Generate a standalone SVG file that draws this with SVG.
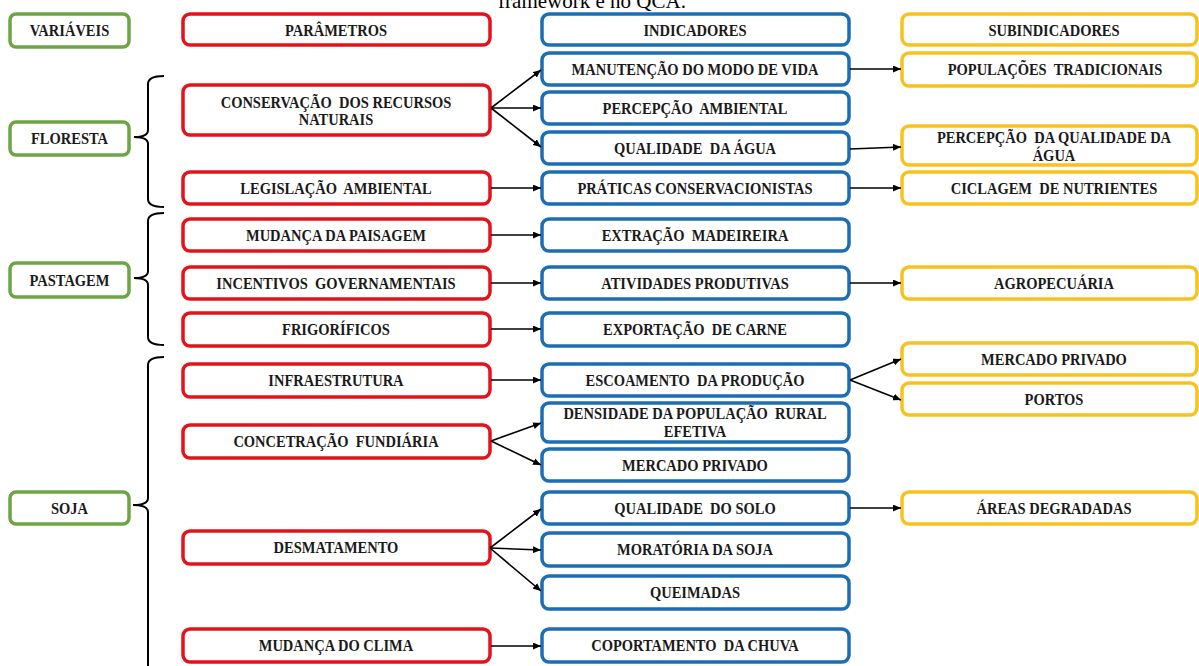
<svg xmlns="http://www.w3.org/2000/svg" width="1199" height="666" viewBox="0 0 1199 666">
  <style>
    rect { fill: #ffffff; stroke-width: 3.5; }
    .g rect { stroke: #6DA544; }
    .r rect { stroke: #E5121A; }
    .b rect { stroke: #1C6EB4; }
    .y rect { stroke: #F7C21E; }
    text { font-family: "Liberation Serif", "Times New Roman", serif; font-weight: bold; font-size: 14.5px; fill: #1a1a1a; text-anchor: middle; white-space: pre;
           transform-box: fill-box; transform-origin: center; transform: scaleY(1.15); }
    .title { font-weight: normal; font-size: 21px; fill: #000; transform: none; }
    .conn line { stroke: #000; stroke-width: 1.6; fill: none; }
    .brace { stroke: #000; stroke-width: 2; fill: none; }
  </style>
  <defs>
    <marker id="arrow" markerUnits="userSpaceOnUse" markerWidth="8" markerHeight="7" refX="8" refY="3.5" orient="auto">
      <path d="M0,0 L8,3.5 L0,7 z" fill="#000"/>
    </marker>
  </defs>
  <rect x="0" y="0" width="1199" height="666" style="stroke:none;fill:#fff"/>

  <!-- caption fragment cut at the top edge -->
  <text class="title" x="592" y="8">framework e no QCA.</text>

  <!-- column headers -->
  <g id="h-variaveis" class="g"><rect x="10" y="14" width="119" height="33" rx="6"/><text x="69.5" y="35">VARIÁVEIS</text></g>
  <g id="h-parametros" class="r"><rect x="183" y="14" width="307" height="31" rx="7"/><text x="336" y="35">PARÂMETROS</text></g>
  <g id="h-indicadores" class="b"><rect x="542" y="14" width="307" height="31" rx="7"/><text x="695" y="35">INDICADORES</text></g>
  <g id="h-subindicadores" class="y"><rect x="902" y="14" width="295" height="31" rx="7"/><text x="1054" y="35">SUBINDICADORES</text></g>

  <!-- variables -->
  <g id="v-floresta" class="g"><rect x="10" y="122" width="119" height="33" rx="6"/><text x="69.5" y="143">FLORESTA</text></g>
  <g id="v-pastagem" class="g"><rect x="10" y="263" width="119" height="34" rx="6"/><text x="69.5" y="285">PASTAGEM</text></g>
  <g id="v-soja" class="g"><rect x="10" y="492" width="119" height="32" rx="6"/><text x="69.5" y="513">SOJA</text></g>

  <!-- braces -->
  <g id="braces">
    <path class="brace" d="M164,76 Q148,76 148,84 V130 Q148,137 134,137 Q148,137 148,144 V199 Q148,207 164,207"/>
    <path class="brace" d="M164,213 Q148,213 148,221 V271 Q148,278 134,278 Q148,278 148,285 V337 Q148,345 164,345"/>
    <path class="brace" d="M164,357 Q148,357 148,365 V498 Q148,505 133,505 Q148,505 148,512 V680"/>
  </g>

  <!-- parameters -->
  <g id="p-conservacao" class="r"><rect x="183" y="85" width="307" height="50" rx="7"/><text x="336" y="107">CONSERVAÇÃO  DOS RECURSOS</text><text x="336" y="124">NATURAIS</text></g>
  <g id="p-legislacao" class="r"><rect x="183" y="172" width="307" height="32" rx="7"/><text x="336" y="193">LEGISLAÇÃO  AMBIENTAL</text></g>
  <g id="p-paisagem" class="r"><rect x="183" y="219" width="307" height="32" rx="7"/><text x="336" y="240">MUDANÇA DA PAISAGEM</text></g>
  <g id="p-incentivos" class="r"><rect x="183" y="267" width="307" height="32" rx="7"/><text x="336" y="288">INCENTIVOS  GOVERNAMENTAIS</text></g>
  <g id="p-frigorificos" class="r"><rect x="183" y="313" width="307" height="33" rx="7"/><text x="336" y="334">FRIGORÍFICOS</text></g>
  <g id="p-infraestrutura" class="r"><rect x="183" y="364" width="307" height="33" rx="7"/><text x="336" y="385">INFRAESTRUTURA</text></g>
  <g id="p-concentracao" class="r"><rect x="183" y="425" width="307" height="33" rx="7"/><text x="336" y="446">CONCETRAÇÃO  FUNDIÁRIA</text></g>
  <g id="p-desmatamento" class="r"><rect x="183" y="531" width="307" height="33" rx="7"/><text x="336" y="552">DESMATAMENTO</text></g>
  <g id="p-clima" class="r"><rect x="183" y="629" width="307" height="33" rx="7"/><text x="336" y="650">MUDANÇA DO CLIMA</text></g>

  <!-- indicators -->
  <g id="i-modo-vida" class="b"><rect x="542" y="53" width="307" height="32" rx="7"/><text x="695" y="74">MANUTENÇÃO DO MODO DE VIDA</text></g>
  <g id="i-percepcao" class="b"><rect x="542" y="92" width="307" height="32" rx="7"/><text x="695" y="113">PERCEPÇÃO  AMBIENTAL</text></g>
  <g id="i-agua" class="b"><rect x="542" y="132" width="307" height="32" rx="7"/><text x="695" y="153">QUALIDADE  DA ÁGUA</text></g>
  <g id="i-praticas" class="b"><rect x="542" y="172" width="307" height="32" rx="7"/><text x="695" y="193">PRÁTICAS CONSERVACIONISTAS</text></g>
  <g id="i-madeira" class="b"><rect x="542" y="219" width="307" height="32" rx="7"/><text x="695" y="240">EXTRAÇÃO  MADEIREIRA</text></g>
  <g id="i-atividades" class="b"><rect x="542" y="267" width="307" height="32" rx="7"/><text x="695" y="288">ATIVIDADES PRODUTIVAS</text></g>
  <g id="i-carne" class="b"><rect x="542" y="313" width="307" height="33" rx="7"/><text x="695" y="334">EXPORTAÇÃO  DE CARNE</text></g>
  <g id="i-escoamento" class="b"><rect x="542" y="364" width="307" height="32" rx="7"/><text x="695" y="385">ESCOAMENTO  DA PRODUÇÃO</text></g>
  <g id="i-densidade" class="b"><rect x="542" y="403" width="307" height="39" rx="7"/><text x="695" y="418">DENSIDADE DA POPULAÇÃO  RURAL</text><text x="695" y="436">EFETIVA</text></g>
  <g id="i-mercado" class="b"><rect x="542" y="449" width="307" height="32" rx="7"/><text x="695" y="470">MERCADO PRIVADO</text></g>
  <g id="i-solo" class="b"><rect x="542" y="492" width="307" height="32" rx="7"/><text x="695" y="513">QUALIDADE  DO SOLO</text></g>
  <g id="i-moratoria" class="b"><rect x="542" y="533" width="307" height="33" rx="7"/><text x="695" y="554">MORATÓRIA DA SOJA</text></g>
  <g id="i-queimadas" class="b"><rect x="542" y="576" width="307" height="33" rx="7"/><text x="695" y="597">QUEIMADAS</text></g>
  <g id="i-chuva" class="b"><rect x="542" y="629" width="307" height="33" rx="7"/><text x="695" y="650">COPORTAMENTO  DA CHUVA</text></g>

  <!-- sub-indicators -->
  <g id="s-populacoes" class="y"><rect x="902" y="53" width="295" height="33" rx="7"/><text x="1055" y="74">POPULAÇÕES  TRADICIONAIS</text></g>
  <g id="s-agua" class="y"><rect x="902" y="126" width="295" height="39" rx="7"/><text x="1054" y="142">PERCEPÇÃO  DA QUALIDADE DA</text><text x="1054" y="160">ÁGUA</text></g>
  <g id="s-ciclagem" class="y"><rect x="902" y="172" width="295" height="32" rx="7"/><text x="1054" y="193">CICLAGEM  DE NUTRIENTES</text></g>
  <g id="s-agropecuaria" class="y"><rect x="902" y="267" width="295" height="32" rx="7"/><text x="1054" y="288">AGROPECUÁRIA</text></g>
  <g id="s-mercado" class="y"><rect x="902" y="343" width="295" height="32" rx="7"/><text x="1054" y="364">MERCADO PRIVADO</text></g>
  <g id="s-portos" class="y"><rect x="902" y="383" width="295" height="32" rx="7"/><text x="1054" y="404">PORTOS</text></g>
  <g id="s-areas" class="y"><rect x="902" y="492" width="295" height="32" rx="7"/><text x="1054" y="513">ÁREAS DEGRADADAS</text></g>

  <!-- connectors -->
  <g id="connectors" class="conn">
    <line x1="491" y1="108" x2="541" y2="70" marker-end="url(#arrow)"/>
    <line x1="491" y1="108" x2="541" y2="108" marker-end="url(#arrow)"/>
    <line x1="491" y1="108" x2="541" y2="147" marker-end="url(#arrow)"/>
    <line x1="491" y1="188" x2="541" y2="188" marker-end="url(#arrow)"/>
    <line x1="491" y1="235" x2="541" y2="235" marker-end="url(#arrow)"/>
    <line x1="491" y1="283" x2="541" y2="283" marker-end="url(#arrow)"/>
    <line x1="491" y1="329" x2="541" y2="329" marker-end="url(#arrow)"/>
    <line x1="491" y1="380" x2="541" y2="380" marker-end="url(#arrow)"/>
    <line x1="491" y1="441" x2="541" y2="423" marker-end="url(#arrow)"/>
    <line x1="491" y1="441" x2="541" y2="465" marker-end="url(#arrow)"/>
    <line x1="490" y1="548" x2="541" y2="509" marker-end="url(#arrow)"/>
    <line x1="490" y1="548" x2="541" y2="550" marker-end="url(#arrow)"/>
    <line x1="490" y1="548" x2="541" y2="591" marker-end="url(#arrow)"/>
    <line x1="491" y1="646" x2="541" y2="646" marker-end="url(#arrow)"/>
    <line x1="850" y1="69" x2="901" y2="69" marker-end="url(#arrow)"/>
    <line x1="850" y1="149" x2="901" y2="147" marker-end="url(#arrow)"/>
    <line x1="850" y1="188" x2="901" y2="188" marker-end="url(#arrow)"/>
    <line x1="850" y1="283" x2="901" y2="283" marker-end="url(#arrow)"/>
    <line x1="850" y1="380" x2="901" y2="359" marker-end="url(#arrow)"/>
    <line x1="850" y1="380" x2="901" y2="400" marker-end="url(#arrow)"/>
    <line x1="850" y1="508" x2="901" y2="508" marker-end="url(#arrow)"/>
  </g>
</svg>
